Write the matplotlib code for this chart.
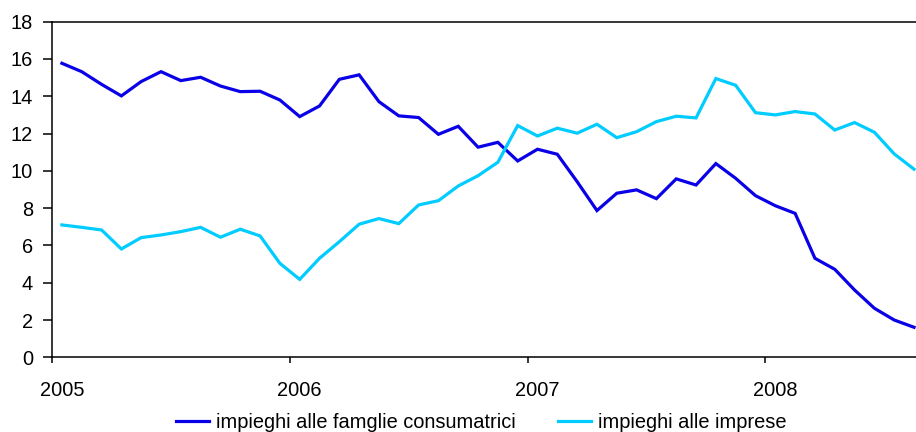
import matplotlib.pyplot as plt

plt.rcParams['font.family'] = ['Liberation Sans', 'DejaVu Sans']

# monthly values, Jan 2005 - Aug 2008
years = ['2005', '2006', '2007', '2008']
famiglie = [15.77, 15.32, 14.64, 14.02, 14.79, 15.32, 14.84, 15.02, 14.55, 14.25, 14.27, 13.80,
            12.91, 13.48, 14.91, 15.15, 13.71, 12.95, 12.86, 11.96, 12.39, 11.27, 11.53, 10.53,
            11.16, 10.89, 9.42, 7.87, 8.80, 8.98, 8.51, 9.57, 9.24, 10.39, 9.60, 8.67,
            8.13, 7.72, 5.31, 4.72, 3.61, 2.63, 2.00, 1.61]
imprese = [7.10, 6.97, 6.83, 5.81, 6.42, 6.56, 6.74, 6.97, 6.44, 6.87, 6.51, 5.04,
           4.18, 5.31, 6.20, 7.14, 7.44, 7.17, 8.17, 8.40, 9.19, 9.74, 10.46, 12.43,
           11.87, 12.29, 12.02, 12.50, 11.78, 12.10, 12.64, 12.93, 12.84, 14.95, 14.59, 13.12,
           13.00, 13.18, 13.05, 12.19, 12.59, 12.07, 10.91, 10.09]
labels = ['impieghi alle famglie consumatrici', 'impieghi alle imprese']

x = [i + 0.5 for i in range(len(famiglie))]

fig = plt.figure(figsize=(9.16, 4.32), dpi=100)
ax = fig.add_axes([52 / 916, 1 - 357.3 / 432, 864 / 916, (357.3 - 21.7) / 432])

ax.plot(x, famiglie, color='#0A00E8', lw=2.3, label=labels[0], solid_joinstyle='miter')
ax.plot(x, imprese, color='#00CCFF', lw=2.3, label=labels[1], solid_joinstyle='miter')

ax.set_xlim(0, 43.6)
ax.set_ylim(0, 18)
ax.set_yticks(range(0, 19, 2))
# tick marks between years, labels on the first month of each year
ax.set_xticks([0, 12, 24, 36])
ax.set_xticklabels([])
ax.set_xticks([0.5, 12.5, 24.5, 36.5], minor=True)
ax.set_xticklabels(years, minor=True)

ax.spines['right'].set_visible(False)
for s in ['left', 'bottom', 'top']:
    ax.spines[s].set_linewidth(1.1)
ax.tick_params(axis='y', direction='out', length=6.5, width=1.1, pad=7, labelsize=14.4)
ax.tick_params(axis='x', which='major', direction='out', length=4.5, width=1.1)
ax.tick_params(axis='x', which='minor', length=0, pad=17, labelsize=14.4)

fig.legend(loc='center', bbox_to_anchor=(0.525, 0.022), ncol=2, frameon=False,
           fontsize=14.4, handlelength=1.65, handletextpad=0.35, columnspacing=2.1,
           borderaxespad=0)

fig.savefig('out.png', dpi=100)
